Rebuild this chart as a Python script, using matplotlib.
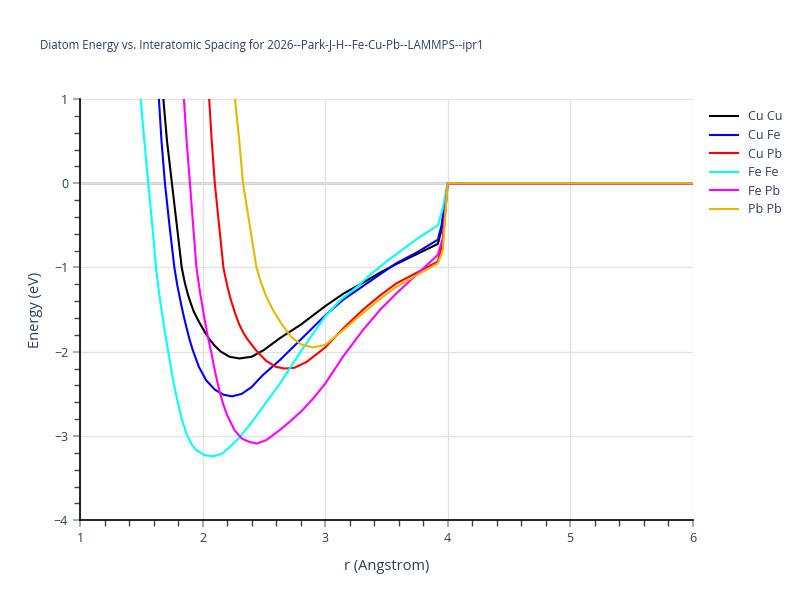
import matplotlib
matplotlib.use('Agg')
import matplotlib.pyplot as plt
from matplotlib.ticker import MultipleLocator

plt.rcParams['font.family'] = ['Open Sans', 'DejaVu Sans']
TEXT = '#2a3f5f'

# r (Angstrom) and energy (eV), per pair
r_cucu = [1.68, 1.71, 1.75, 1.79, 1.83, 1.855, 1.88, 1.905, 1.93, 1.955, 1.98, 2.02, 2.06, 2.10,
          2.15, 2.22, 2.30, 2.40, 2.50, 2.63, 2.80, 3.00, 3.15, 3.31, 3.45, 3.58, 3.75, 3.92, 3.95, 4.00]
e_cucu = [1.00, 0.50, 0.00, -0.50, -1.00, -1.18, -1.32, -1.43, -1.53, -1.60, -1.67, -1.77, -1.86, -1.93,
          -2.00, -2.06, -2.08, -2.06, -1.98, -1.84, -1.68, -1.46, -1.31, -1.18, -1.06, -0.96, -0.84, -0.72, -0.55, 0.00]

r_cufe = [1.644, 1.665, 1.693, 1.73, 1.77, 1.795, 1.82, 1.845, 1.87, 1.895, 1.92, 1.97, 2.03, 2.10, 2.17,
          2.24, 2.32, 2.40, 2.49, 2.63, 2.77, 3.00, 3.15, 3.31, 3.45, 3.58, 3.75, 3.92, 3.95, 4.00]
e_cufe = [1.00, 0.50, 0.00, -0.50, -1.00, -1.22, -1.40, -1.57, -1.72, -1.86, -1.98, -2.18, -2.34, -2.45, -2.51,
          -2.53, -2.50, -2.42, -2.28, -2.10, -1.90, -1.57, -1.38, -1.22, -1.08, -0.95, -0.82, -0.67, -0.50, 0.00]

r_cupb = [2.054, 2.075, 2.10, 2.135, 2.17, 2.20, 2.23, 2.265, 2.30, 2.335, 2.37, 2.44, 2.52, 2.60, 2.67,
          2.75, 2.85, 3.00, 3.15, 3.31, 3.45, 3.58, 3.75, 3.92, 3.96, 4.00]
e_cupb = [1.00, 0.50, 0.00, -0.50, -1.00, -1.21, -1.38, -1.54, -1.68, -1.78, -1.86, -1.99, -2.11, -2.18, -2.20,
          -2.19, -2.12, -1.95, -1.72, -1.50, -1.33, -1.19, -1.06, -0.93, -0.70, 0.00]

r_fefe = [1.495, 1.525, 1.557, 1.59, 1.62, 1.645, 1.67, 1.695, 1.72, 1.755, 1.79, 1.83, 1.87, 1.91, 1.95,
          2.02, 2.09, 2.16, 2.23, 2.30, 2.40, 2.50, 2.63, 2.80, 3.00, 3.13, 3.26, 3.38, 3.50, 3.62, 3.75,
          3.92, 3.96, 4.00]
e_fefe = [1.00, 0.50, 0.00, -0.50, -1.00, -1.30, -1.55, -1.79, -2.00, -2.30, -2.55, -2.80, -2.98, -3.10, -3.17,
          -3.23, -3.24, -3.21, -3.12, -3.02, -2.84, -2.64, -2.38, -2.00, -1.58, -1.38, -1.23, -1.07, -0.93, -0.80, -0.66,
          -0.50, -0.30, 0.00]

r_fepb = [1.848, 1.87, 1.897, 1.923, 1.95, 1.98, 2.01, 2.04, 2.07, 2.105, 2.14, 2.17, 2.20, 2.26, 2.32, 2.38,
          2.44, 2.52, 2.63, 2.72, 2.81, 2.90, 3.00, 3.15, 3.31, 3.45, 3.58, 3.75, 3.92, 3.96, 4.00]
e_fepb = [1.00, 0.50, 0.00, -0.50, -1.00, -1.30, -1.56, -1.80, -2.00, -2.26, -2.48, -2.63, -2.75, -2.93, -3.03, -3.07,
          -3.09, -3.05, -2.93, -2.82, -2.70, -2.56, -2.38, -2.05, -1.74, -1.50, -1.31, -1.08, -0.85, -0.65, 0.00]

r_pbpb = [2.264, 2.30, 2.33, 2.385, 2.44, 2.475, 2.51, 2.545, 2.58, 2.64, 2.72, 2.80, 2.90, 3.00,
          3.15, 3.31, 3.45, 3.58, 3.75, 3.92, 3.96, 4.00]
e_pbpb = [1.00, 0.50, 0.00, -0.50, -1.00, -1.17, -1.31, -1.42, -1.52, -1.66, -1.82, -1.91, -1.95, -1.92,
          -1.74, -1.54, -1.37, -1.23, -1.09, -0.95, -0.80, 0.00]

r_tail = [4.00, 6.00]
e_tail = [0.00, 0.00]

series = [
    ('Cu Cu', r_cucu, e_cucu, 'black'),
    ('Cu Fe', r_cufe, e_cufe, 'blue'),
    ('Cu Pb', r_cupb, e_cupb, 'red'),
    ('Fe Fe', r_fefe, e_fefe, 'cyan'),
    ('Fe Pb', r_fepb, e_fepb, 'magenta'),
    ('Pb Pb', r_pbpb, e_pbpb, '#e6b800'),
]

fig = plt.figure(figsize=(8, 6), dpi=100)
ax = fig.add_axes([0.1, 0.133, 0.766, 0.702])

for name, r, e, c in series:
    ax.plot(r + r_tail, e + e_tail, color=c, lw=1.5, label=name, zorder=3)

ax.set_xlim(1, 6)
ax.set_ylim(-4, 1)
ax.xaxis.set_major_locator(MultipleLocator(1))
ax.yaxis.set_major_locator(MultipleLocator(1))
ax.xaxis.set_minor_locator(MultipleLocator(0.2))
ax.yaxis.set_minor_locator(MultipleLocator(0.2))
ax.grid(True, which='major', color='#e2e2e2', lw=1, zorder=0)
ax.axhline(0, color='#cccccc', lw=2, zorder=1)
for s in ['top', 'right']:
    ax.spines[s].set_visible(False)
for s in ['left', 'bottom']:
    ax.spines[s].set_color('black')
    ax.spines[s].set_linewidth(1.2)
ax.tick_params(which='major', length=5, width=1.5, color='#aaaaaa',
               labelcolor=TEXT, labelsize=9)
ax.tick_params(which='minor', length=4, width=1, color='#444444')
ax.set_yticks([-4, -3, -2, -1, 0, 1])
ax.set_yticklabels(['\u22124', '\u22123', '\u22122', '\u22121', '0', '1'])

ax.set_xlabel('r (Angstrom)', color=TEXT, fontsize=10.5, labelpad=10)
ax.set_ylabel('Energy (eV)', color=TEXT, fontsize=10.5, labelpad=8)
fig.text(0.05, 0.925, 'Diatom Energy vs. Interatomic Spacing for 2026--Park-J-H--Fe-Cu-Pb--LAMMPS--ipr1',
         color=TEXT, fontsize=8.3, ha='left', va='center')

leg = ax.legend(loc='upper left', bbox_to_anchor=(1.01, 1.0), frameon=False,
                fontsize=9, handlelength=2.2, labelspacing=0.45)
for t in leg.get_texts():
    t.set_color(TEXT)

fig.savefig('out.png', dpi=100)
